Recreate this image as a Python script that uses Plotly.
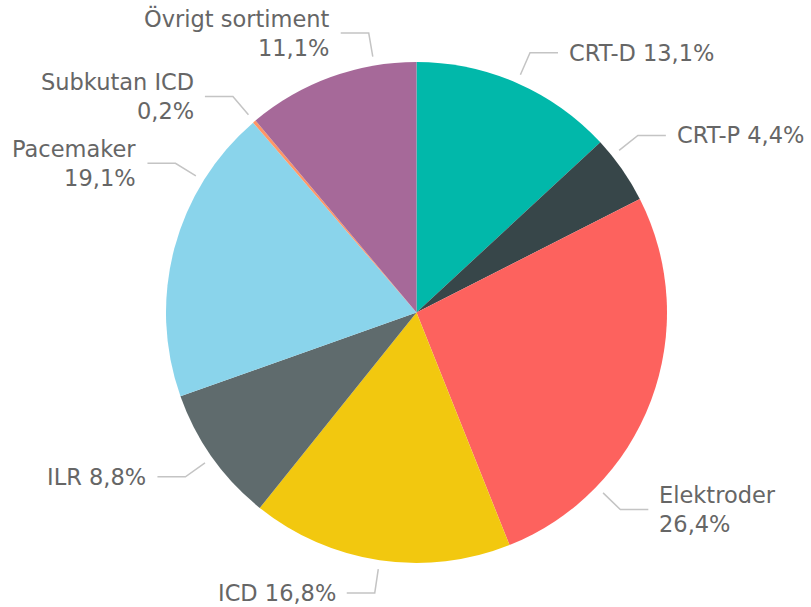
import math
import plotly.graph_objects as go

# Product groups and their share of the total (%)
categories = ["CRT-D", "CRT-P", "Elektroder", "ICD", "ILR", "Pacemaker",
              "Subkutan ICD", "Övrigt sortiment"]
shares = [13.1, 4.4, 26.4, 16.8, 8.8, 19.1, 0.2, 11.1]
colors = ["#01B8AA", "#374649", "#FD625E", "#F2C80F", "#5F6B6D", "#8AD4EB",
          "#FE9666", "#A66999"]

# Label layout: which labels wrap onto two lines, and how far (degrees) a
# leader is nudged from the slice's mid-angle to keep labels apart
wrapped = {"Elektroder", "Pacemaker", "Subkutan ICD", "Övrigt sortiment"}
leader_nudge = {"CRT-P": -3.8, "Elektroder": 23.4, "Pacemaker": 16.9,
                "Övrigt sortiment": 10.3}

W, H = 811, 607
CX, CY, R = 416.5, 312.5, 250.5
R_START, R_ELBOW, ARM, GAP = R + 9, R + 33, 28, 9
TEXT_COLOR = "#666666"
LINE_COLOR = "#c4c4c4"
FONT = dict(family="DejaVu Sans, sans-serif", size=22.5, color=TEXT_COLOR)

fig = go.Figure()

fig.add_trace(go.Pie(
    labels=categories,
    values=shares,
    sort=False,
    direction="clockwise",
    rotation=0,
    marker=dict(colors=colors, line=dict(width=0)),
    textinfo="none",
    hoverinfo="label+percent",
    showlegend=False,
    domain=dict(x=[(CX - R) / W, (CX + R) / W],
                y=[(H - CY - R) / H, (H - CY + R) / H]),
))


def fmt(v):
    return f"{v:.1f}".replace(".", ",") + "%"


total = sum(shares)
cum = 0.0
annotations = []
for name, val in zip(categories, shares):
    mid = (cum + val / 2) / total * 360.0
    cum += val
    ang = math.radians(mid + leader_nudge.get(name, 0.0))
    sx, sy = CX + R_START * math.sin(ang), CY - R_START * math.cos(ang)
    ex, ey = CX + R_ELBOW * math.sin(ang), CY - R_ELBOW * math.cos(ang)
    right = ex >= CX
    hx = ex + ARM if right else ex - ARM
    fig.add_trace(go.Scatter(
        x=[sx, ex, hx], y=[sy, ey, ey], mode="lines",
        line=dict(color=LINE_COLOR, width=1.5),
        hoverinfo="skip", showlegend=False,
    ))
    sep = "<br>" if name in wrapped else " "
    annotations.append(dict(
        x=hx + (GAP if right else -GAP), y=ey, xref="x", yref="y",
        text=f"{name}{sep}{fmt(val)}",
        showarrow=False,
        xanchor="left" if right else "right",
        yanchor="middle",
        align="left" if right else "right",
        font=FONT,
    ))

fig.update_layout(
    width=W, height=H,
    margin=dict(l=0, r=0, t=0, b=0),
    paper_bgcolor="white",
    plot_bgcolor="white",
    xaxis=dict(range=[0, W], visible=False, fixedrange=True),
    yaxis=dict(range=[H, 0], visible=False, fixedrange=True),
    annotations=annotations,
)

fig.write_html("out.html")
